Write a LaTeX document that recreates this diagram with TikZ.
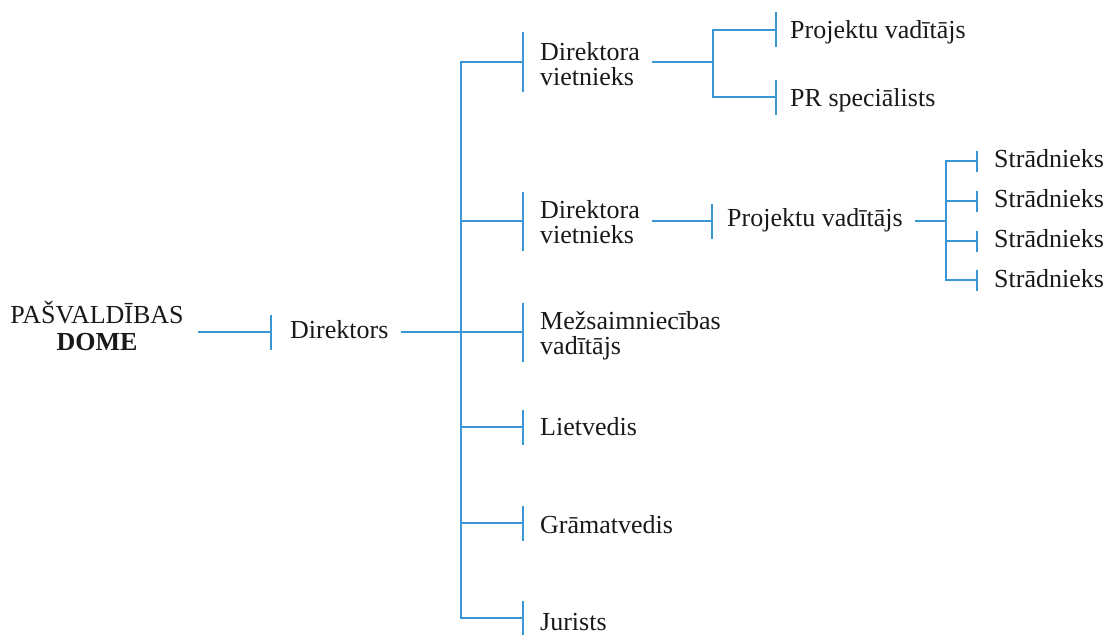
\documentclass[tikz,border=0pt]{standalone}
\usepackage{fontspec}
\setmainfont{Liberation Serif}
\usetikzlibrary{arrows.meta}
\definecolor{lineblue}{RGB}{58,150,212}
\begin{document}
\begin{tikzpicture}[x=1pt,y=-1pt,
  lbl/.style={font=\fontsize{26}{25}\selectfont, inner sep=0pt, anchor=base west, align=left, text=black!90},
  conn/.style={draw=lineblue, line width=2.2pt},
  tickA/.style={conn, -{Bar[width=59pt]}},
  tickB/.style={conn, -{Bar[width=35pt]}},
  tickC/.style={conn, -{Bar[width=21pt]}},
  trunk/.style={conn, line cap=rect},
]
\useasboundingbox (0,0) rectangle (1107,634);

% tick and junction coordinates
\coordinate (t-dir) at (272,332);
\coordinate (j0) at (461,332);
\coordinate (t-dv1) at (524,62);
\coordinate (t-dv2) at (524,221);
\coordinate (t-mez) at (524,332);
\coordinate (t-liet) at (524,427);
\coordinate (t-gram) at (524,523);
\coordinate (t-jur) at (524,618);
\coordinate (j1) at (713,62);
\coordinate (t-pv1) at (777,30);
\coordinate (t-pr) at (777,97);
\coordinate (t-pv2) at (713,221);
\coordinate (j2) at (946,221);
\coordinate (t-s1) at (978,161);
\coordinate (t-s2) at (978,201);
\coordinate (t-s3) at (978,241);
\coordinate (t-s4) at (978,280);

% nodes (base anchor = baseline of the last line)
\node[lbl, anchor=base, align=center, font=\fontsize{26}{27}\selectfont] (dome) at (97,350) {PAŠVALDĪBAS\\\textbf{DOME}};
\node[lbl] (dir) at (290,338) {Direktors};
\node[lbl] (dv1) at (540,85) {Direktora\\vietnieks};
\node[lbl] (dv2) at (540,243) {Direktora\\vietnieks};
\node[lbl] (mez) at (540,354) {Mežsaimniecības\\vadītājs};
\node[lbl] (liet) at (540,435) {Lietvedis};
\node[lbl] (gram) at (540,533) {Grāmatvedis};
\node[lbl] (jur) at (540,630) {Jurists};
\node[lbl] (pv1) at (790,38) {Projektu vadītājs};
\node[lbl] (pr) at (790,106) {PR speciālists};
\node[lbl] (pv2) at (727,226) {Projektu vadītājs};
\node[lbl] (s1) at (994,167) {Strādnieks};
\node[lbl] (s2) at (994,207) {Strādnieks};
\node[lbl] (s3) at (994,247) {Strādnieks};
\node[lbl] (s4) at (994,287) {Strādnieks};

% connectors
\draw[tickB] ([xshift=14pt]dome.east |- t-dir) -- (t-dir);
\draw[conn] ([xshift=12pt]dir.east |- t-dir) -- (j0);
\draw[trunk] (j0 |- t-dv1) -- (j0 |- t-jur);
\draw[tickA] (j0 |- t-dv1) -- (t-dv1);
\draw[tickA] (j0 |- t-dv2) -- (t-dv2);
\draw[tickA] (j0 |- t-mez) -- (t-mez);
\draw[tickB] (j0 |- t-liet) -- (t-liet);
\draw[tickB] (j0 |- t-gram) -- (t-gram);
\draw[tickB] (j0 |- t-jur) -- (t-jur);

\draw[conn] ([xshift=12pt]dv1.east |- t-dv1) -- (j1);
\draw[trunk] (j1 |- t-pv1) -- (j1 |- t-pr);
\draw[tickB] (j1 |- t-pv1) -- (t-pv1);
\draw[tickB] (j1 |- t-pr) -- (t-pr);

\draw[tickB] ([xshift=12pt]dv2.east |- t-dv2) -- (t-pv2);
\draw[conn] ([xshift=12pt]pv2.east |- t-pv2) -- (j2);
\draw[trunk] (j2 |- t-s1) -- (j2 |- t-s4);
\draw[tickC] (j2 |- t-s1) -- (t-s1);
\draw[tickC] (j2 |- t-s2) -- (t-s2);
\draw[tickC] (j2 |- t-s3) -- (t-s3);
\draw[tickC] (j2 |- t-s4) -- (t-s4);
\end{tikzpicture}
\end{document}
